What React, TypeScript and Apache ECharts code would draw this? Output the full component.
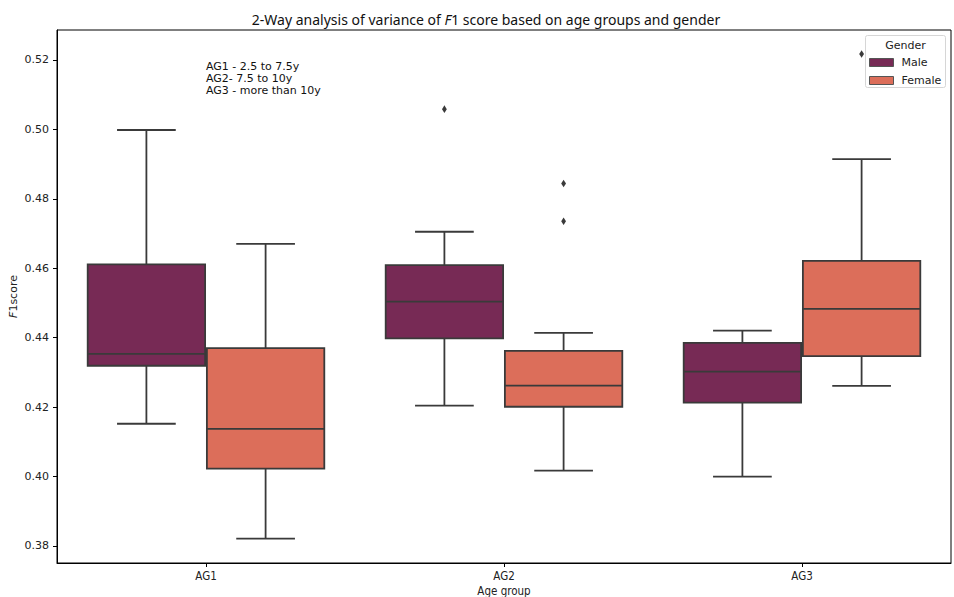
import React, { useEffect, useRef } from "react";
import * as echarts from "echarts";

const categories = ["AG1", "AG2", "AG3"];
// [min, q1, median, q3, max]
const maleStats = [
  [0.4152, 0.4319, 0.4353, 0.4611, 0.4998],
  [0.4204, 0.4398, 0.4504, 0.4609, 0.4705],
  [0.4000, 0.4213, 0.4302, 0.4385, 0.4420],
];
const femaleStats = [
  [0.3821, 0.4023, 0.4137, 0.4370, 0.4670],
  [0.4017, 0.4201, 0.4262, 0.4362, 0.4414],
  [0.4261, 0.4347, 0.4483, 0.4621, 0.4914],
];
// [category index, value]
const maleOutliers = [[1, 0.5058]];
const femaleOutliers = [
  [1, 0.4844],
  [1, 0.4735],
  [2, 0.5217],
];
const yTicks = [0.38, 0.4, 0.42, 0.44, 0.46, 0.48, 0.5, 0.52];
const notes = ["AG1 - 2.5 to 7.5y", "AG2- 7.5 to 10y", "AG3 - more than 10y"];

const MALE = "#772a55";
const FEMALE = "#dc6e5a";
const LINE = "#3a3a3a";

function boxRenderer(shift: number, color: string) {
  return (params: any, api: any) => {
    const cat = api.value(0);
    const band = api.size([1, 0])[0];
    const cx = api.coord([cat, 0.4])[0] + shift * band;
    const y = (i: number) => api.coord([cat, api.value(i)])[1];
    const yMin = y(1), yQ1 = y(2), yMed = y(3), yQ3 = y(4), yMax = y(5);
    const hw = band * 0.197;
    const cw = hw / 2;
    const ls = { stroke: LINE, lineWidth: 1.8 };
    return {
      type: "group",
      children: [
        { type: "line", shape: { x1: cx, y1: yQ3, x2: cx, y2: yMax }, style: ls },
        { type: "line", shape: { x1: cx, y1: yQ1, x2: cx, y2: yMin }, style: ls },
        { type: "line", shape: { x1: cx - cw, y1: yMax, x2: cx + cw, y2: yMax }, style: ls },
        { type: "line", shape: { x1: cx - cw, y1: yMin, x2: cx + cw, y2: yMin }, style: ls },
        {
          type: "rect",
          shape: { x: cx - hw, y: yQ3, width: 2 * hw, height: yQ1 - yQ3 },
          style: { fill: color, stroke: LINE, lineWidth: 1.8 },
        },
        { type: "line", shape: { x1: cx - hw, y1: yMed, x2: cx + hw, y2: yMed }, style: ls },
      ],
    };
  };
}

function outlierRenderer(shift: number) {
  return (params: any, api: any) => {
    const cat = api.value(0);
    const band = api.size([1, 0])[0];
    const p = api.coord([cat, api.value(1)]);
    const cx = p[0] + shift * band;
    const cy = p[1];
    return {
      type: "polygon",
      shape: {
        points: [
          [cx, cy - 3.8],
          [cx + 2.4, cy],
          [cx, cy + 3.8],
          [cx - 2.4, cy],
        ],
      },
      style: { fill: LINE },
    };
  };
}

export default function App() {
  const ref = useRef<HTMLDivElement>(null);
  useEffect(() => {
    if (!ref.current) return;
    const chart = echarts.init(ref.current, null, { renderer: "svg" });
    const tickFont = "DejaVu Sans";
    const narrowFont = "'DejaVu Sans Condensed', 'Liberation Sans', sans-serif";
    chart.setOption({
      animation: false,
      backgroundColor: "#ffffff",
      title: {
        text: "{a|2-Way analysis of variance of }{i|F}{a|1 score based on age groups and gender}",
        left: 481,
        top: 7,
        textAlign: "center",
        textStyle: {
          rich: {
            a: { fontFamily: "Noto Sans", fontSize: 14, fontWeight: "normal", color: "#111" },
            i: { fontFamily: "Noto Sans", fontSize: 14, fontWeight: "normal", fontStyle: "italic", color: "#111" },
          },
        },
      },
      grid: {
        left: 57,
        right: 3,
        top: 30,
        bottom: 34,
        outerBoundsMode: "none",
        containLabel: false,
        show: true,
        borderColor: "#000",
        borderWidth: 1,
        backgroundColor: "transparent",
      },
      legend: {
        orient: "vertical",
        left: 869,
        top: 57,
        padding: 0,
        z: 20,
        itemWidth: 24,
        itemHeight: 8,
        itemGap: 7,
        selectedMode: false,
        textStyle: { fontFamily: tickFont, fontSize: 11, color: "#222", lineHeight: 10, padding: [0, 0, 0, 3] },
        data: [
          { name: "Male", icon: "rect", itemStyle: { color: MALE, borderColor: "#555", borderWidth: 1 } },
          { name: "Female", icon: "rect", itemStyle: { color: FEMALE, borderColor: "#555", borderWidth: 1 } },
        ],
      },
      xAxis: {
        type: "category",
        data: categories,
        name: "Age group",
        nameLocation: "middle",
        nameGap: 22,
        nameMoveOverlap: false,
        nameTextStyle: { fontFamily: narrowFont, fontSize: 11.5, color: "#222" },
        axisLine: { show: true, lineStyle: { color: "#000", width: 1 } },
        axisTick: { show: true, alignWithLabel: true, length: 4, lineStyle: { color: "#000" } },
        axisLabel: { margin: 7, fontFamily: narrowFont, fontSize: 11.5, color: "#222" },
        splitLine: { show: false },
      },
      yAxis: {
        type: "value",
        min: 0.3751,
        max: 0.5286,
        name: "{i|F}{a|1score}",
        nameLocation: "middle",
        nameRotate: 90,
        nameGap: 38,
        nameMoveOverlap: false,
        nameTextStyle: {
          rich: {
            a: { fontFamily: tickFont, fontSize: 11, color: "#222" },
            i: { fontFamily: tickFont, fontSize: 11, fontStyle: "italic", color: "#222" },
          },
        },
        axisLine: { show: true, lineStyle: { color: "#000", width: 1 } },
        axisTick: { show: true, length: 4, lineStyle: { color: "#000" }, customValues: yTicks },
        axisLabel: {
          margin: 8,
          fontFamily: tickFont,
          fontSize: 11,
          color: "#222",
          customValues: yTicks,
          formatter: (v: number) => v.toFixed(2),
        },
        splitLine: { show: false },
      },
      graphic: [
        {
          type: "rect",
          shape: { x: 865.5, y: 35.5, width: 80, height: 52, r: 2 },
          style: { fill: "rgba(255,255,255,0.85)", stroke: "#d6d6d6", lineWidth: 1 },
          z: 10,
        },
        {
          type: "text",
          x: 905.5,
          y: 45,
          style: {
            text: "Gender",
            fontFamily: tickFont,
            fontSize: 11,
            fill: "#222",
            textAlign: "center",
            textVerticalAlign: "middle",
          },
          z: 11,
        },
        ...notes.map((t, i) => ({
          type: "text",
          x: 206,
          y: 61 + i * 12,
          style: { text: t, fontFamily: tickFont, fontSize: 11, fill: "#111" },
          z: 11,
        })),
      ],
      series: [
        {
          name: "Male",
          type: "custom",
          renderItem: boxRenderer(-0.2, MALE),
          encode: { x: 0, y: [1, 2, 3, 4, 5] },
          itemStyle: { color: MALE },
          data: maleStats.map((s, i) => [i, ...s]),
          z: 2,
        },
        {
          name: "Female",
          type: "custom",
          renderItem: boxRenderer(0.2, FEMALE),
          encode: { x: 0, y: [1, 2, 3, 4, 5] },
          itemStyle: { color: FEMALE },
          data: femaleStats.map((s, i) => [i, ...s]),
          z: 2,
        },
        {
          name: "Male outliers",
          type: "custom",
          renderItem: outlierRenderer(-0.2),
          encode: { x: 0, y: 1 },
          data: maleOutliers,
          z: 3,
        },
        {
          name: "Female outliers",
          type: "custom",
          renderItem: outlierRenderer(0.2),
          encode: { x: 0, y: 1 },
          data: femaleOutliers,
          z: 3,
        },
      ],
    });
    return () => chart.dispose();
  }, []);
  return (
    <div
      ref={ref}
      style={{ position: "fixed", left: 0, top: 0, width: 954, height: 597 }}
    />
  );
}
